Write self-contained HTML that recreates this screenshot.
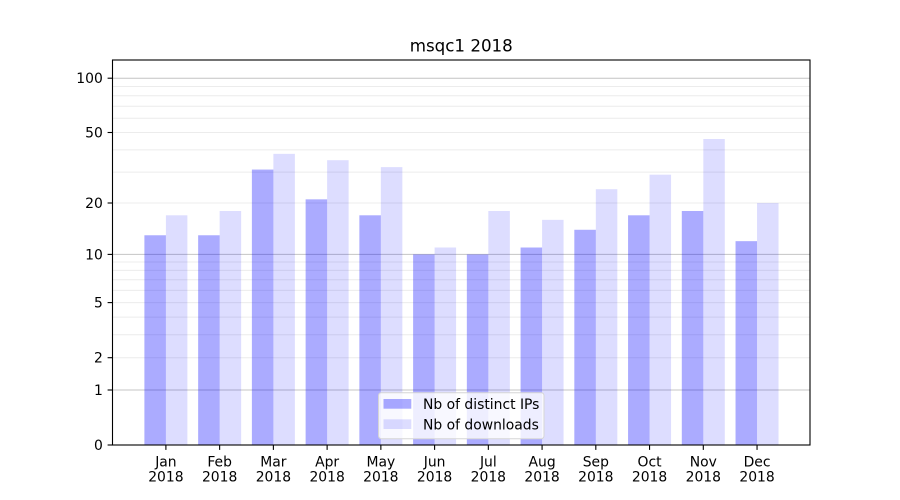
<!DOCTYPE html>
<html>
<head>
<meta charset="utf-8">
<style>
  html, body { margin: 0; padding: 0; background: #ffffff; }
  svg { display: block; }
  text { font-family: "DejaVu Sans", "Liberation Sans", sans-serif; fill: #000; }
</style>
</head>
<body>
<svg width="900" height="500" viewBox="0 0 900 500" xmlns="http://www.w3.org/2000/svg">
  <rect x="0" y="0" width="900" height="500" fill="#ffffff"/>

  <!-- minor gridlines -->
  <g stroke="#ececec" stroke-width="1">
    <line x1="112.5" x2="810" y1="357.7" y2="357.7"/>
    <line x1="112.5" x2="810" y1="334.8" y2="334.8"/>
    <line x1="112.5" x2="810" y1="317.1" y2="317.1"/>
    <line x1="112.5" x2="810" y1="302.6" y2="302.6"/>
    <line x1="112.5" x2="810" y1="290.4" y2="290.4"/>
    <line x1="112.5" x2="810" y1="279.7" y2="279.7"/>
    <line x1="112.5" x2="810" y1="270.4" y2="270.4"/>
    <line x1="112.5" x2="810" y1="262" y2="262"/>
    <line x1="112.5" x2="810" y1="203" y2="203"/>
    <line x1="112.5" x2="810" y1="172.1" y2="172.1"/>
    <line x1="112.5" x2="810" y1="149.9" y2="149.9"/>
    <line x1="112.5" x2="810" y1="132.5" y2="132.5"/>
    <line x1="112.5" x2="810" y1="118.3" y2="118.3"/>
    <line x1="112.5" x2="810" y1="106.2" y2="106.2"/>
    <line x1="112.5" x2="810" y1="95.8" y2="95.8"/>
    <line x1="112.5" x2="810" y1="86.5" y2="86.5"/>
  </g>
  <!-- major gridlines -->
  <g stroke="#c4c4c4" stroke-width="1">
    <line x1="112.5" x2="810" y1="390" y2="390"/>
    <line x1="112.5" x2="810" y1="254.4" y2="254.4"/>
    <line x1="112.5" x2="810" y1="78.2" y2="78.2"/>
  </g>

  <!-- IP bars -->
  <g fill="#0000ff" fill-opacity="0.33">
    <rect x="144.4" y="235.26" width="21.5" height="209.74"/>
    <rect x="198.14" y="235.26" width="21.5" height="209.74"/>
    <rect x="251.88" y="169.56" width="21.5" height="275.44"/>
    <rect x="305.62" y="199.34" width="21.5" height="245.66"/>
    <rect x="359.36" y="215.29" width="21.5" height="229.71"/>
    <rect x="413.1" y="254.43" width="21.5" height="190.57"/>
    <rect x="466.84" y="254.43" width="21.5" height="190.57"/>
    <rect x="520.58" y="247.51" width="21.5" height="197.49"/>
    <rect x="574.32" y="229.78" width="21.5" height="215.22"/>
    <rect x="628.06" y="215.29" width="21.5" height="229.71"/>
    <rect x="681.8" y="210.99" width="21.5" height="234.01"/>
    <rect x="735.54" y="241.15" width="21.5" height="203.85"/>
  </g>
  <!-- Download bars -->
  <g fill="#0000ff" fill-opacity="0.135">
    <rect x="165.9" y="215.29" width="21.5" height="229.71"/>
    <rect x="219.64" y="210.99" width="21.5" height="234.01"/>
    <rect x="273.38" y="153.84" width="21.5" height="291.16"/>
    <rect x="327.12" y="160.2" width="21.5" height="284.8"/>
    <rect x="380.86" y="167.11" width="21.5" height="277.89"/>
    <rect x="434.6" y="247.51" width="21.5" height="197.49"/>
    <rect x="488.34" y="210.99" width="21.5" height="234.01"/>
    <rect x="542.08" y="219.83" width="21.5" height="225.17"/>
    <rect x="595.82" y="189.18" width="21.5" height="255.82"/>
    <rect x="649.56" y="174.69" width="21.5" height="270.31"/>
    <rect x="703.3" y="139.0" width="21.5" height="306.0"/>
    <rect x="757.04" y="203.03" width="21.5" height="241.97"/>
  </g>

  <!-- spines -->
  <rect x="112.5" y="60" width="697.5" height="385" fill="none" stroke="#000" stroke-width="1.1"/>

  <!-- y ticks -->
  <g stroke="#000" stroke-width="1.1">
    <line x1="107.6" x2="112.5" y1="445" y2="445"/>
    <line x1="107.6" x2="112.5" y1="390" y2="390"/>
    <line x1="107.6" x2="112.5" y1="357.7" y2="357.7"/>
    <line x1="107.6" x2="112.5" y1="302.6" y2="302.6"/>
    <line x1="107.6" x2="112.5" y1="254.4" y2="254.4"/>
    <line x1="107.6" x2="112.5" y1="203" y2="203"/>
    <line x1="107.6" x2="112.5" y1="132.5" y2="132.5"/>
    <line x1="107.6" x2="112.5" y1="78.2" y2="78.2"/>
  </g>
  <g font-size="13.9" text-anchor="end">
    <text x="102.8" y="450">0</text>
    <text x="102.8" y="395">1</text>
    <text x="102.8" y="362.7">2</text>
    <text x="102.8" y="307.6">5</text>
    <text x="102.8" y="259.4">10</text>
    <text x="102.8" y="208">20</text>
    <text x="102.8" y="137.5">50</text>
    <text x="102.8" y="83.2">100</text>
  </g>

  <!-- x ticks -->
  <g stroke="#000" stroke-width="1.1">
    <line x1="165.9" x2="165.9" y1="445" y2="449.9"/>
    <line x1="219.64" x2="219.64" y1="445" y2="449.9"/>
    <line x1="273.38" x2="273.38" y1="445" y2="449.9"/>
    <line x1="327.12" x2="327.12" y1="445" y2="449.9"/>
    <line x1="380.86" x2="380.86" y1="445" y2="449.9"/>
    <line x1="434.6" x2="434.6" y1="445" y2="449.9"/>
    <line x1="488.34" x2="488.34" y1="445" y2="449.9"/>
    <line x1="542.08" x2="542.08" y1="445" y2="449.9"/>
    <line x1="595.82" x2="595.82" y1="445" y2="449.9"/>
    <line x1="649.56" x2="649.56" y1="445" y2="449.9"/>
    <line x1="703.3" x2="703.3" y1="445" y2="449.9"/>
    <line x1="757.04" x2="757.04" y1="445" y2="449.9"/>
  </g>
  <g font-size="13.9" text-anchor="middle">
    <text x="165.9" y="466.7">Jan</text><text x="165.9" y="481.7">2018</text>
    <text x="219.64" y="466.7">Feb</text><text x="219.64" y="481.7">2018</text>
    <text x="273.38" y="466.7">Mar</text><text x="273.38" y="481.7">2018</text>
    <text x="327.12" y="466.7">Apr</text><text x="327.12" y="481.7">2018</text>
    <text x="380.86" y="466.7">May</text><text x="380.86" y="481.7">2018</text>
    <text x="434.6" y="466.7">Jun</text><text x="434.6" y="481.7">2018</text>
    <text x="488.34" y="466.7">Jul</text><text x="488.34" y="481.7">2018</text>
    <text x="542.08" y="466.7">Aug</text><text x="542.08" y="481.7">2018</text>
    <text x="595.82" y="466.7">Sep</text><text x="595.82" y="481.7">2018</text>
    <text x="649.56" y="466.7">Oct</text><text x="649.56" y="481.7">2018</text>
    <text x="703.3" y="466.7">Nov</text><text x="703.3" y="481.7">2018</text>
    <text x="757.04" y="466.7">Dec</text><text x="757.04" y="481.7">2018</text>
  </g>

  <!-- title -->
  <text x="461.25" y="51.7" font-size="16.7" text-anchor="middle">msqc1 2018</text>

  <!-- legend -->
  <rect x="378.5" y="392.7" width="165.5" height="46" rx="2.8" ry="2.8" fill="#ffffff" fill-opacity="0.8" stroke="#d6d6d6" stroke-width="1"/>
  <rect x="383.5" y="399" width="27.8" height="9.7" fill="#0000ff" fill-opacity="0.33"/>
  <rect x="383.5" y="419.3" width="27.8" height="9.7" fill="#0000ff" fill-opacity="0.135"/>
  <text x="423" y="409" font-size="13.9">Nb of distinct IPs</text>
  <text x="423" y="429.4" font-size="13.9">Nb of downloads</text>
</svg>
</body>
</html>
